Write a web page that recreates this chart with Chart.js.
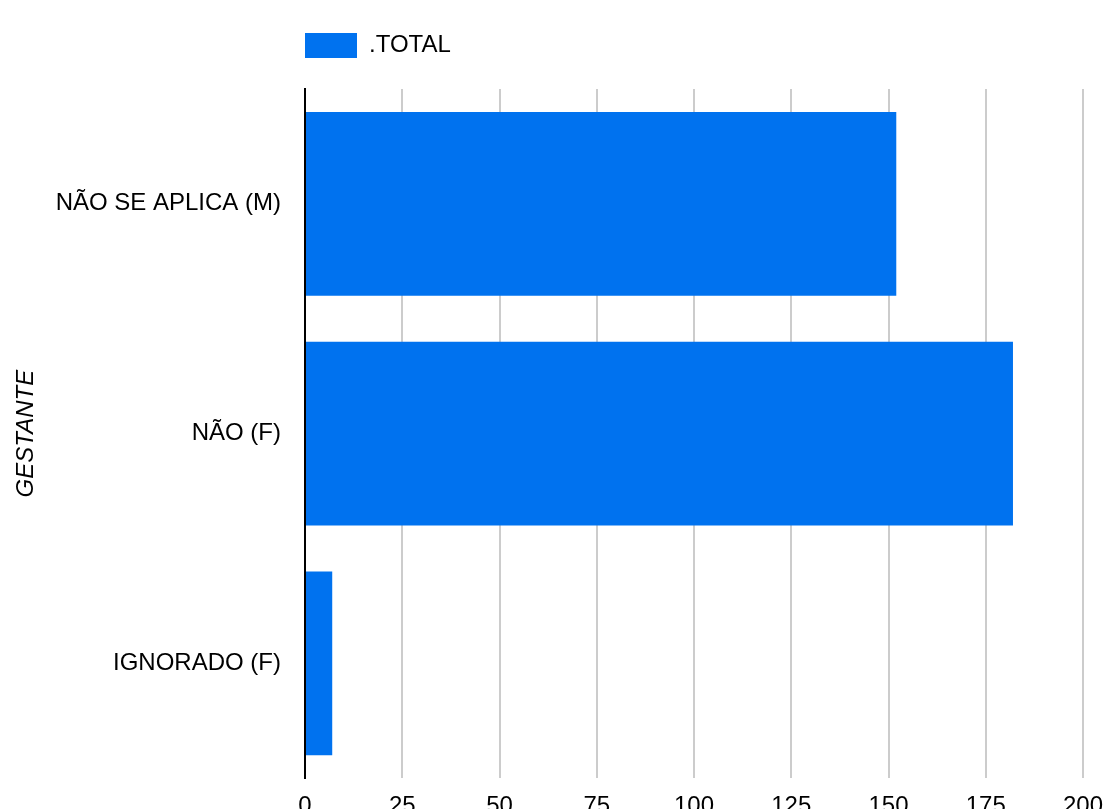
<!DOCTYPE html>
<html>
<head>
<meta charset="utf-8">
<script src="https://cdn.jsdelivr.net/npm/chart.js@4"></script>
<style>
  html, body { margin: 0; padding: 0; overflow: hidden; background: #fff; }
  #wrap { width: 1105px; height: 835px; }
</style>
</head>
<body>
<div id="wrap"><canvas id="chart" width="1105" height="835"></canvas></div>
<script>
const categories = ["NÃO SE APLICA (M)", "NÃO (F)", "IGNORADO (F)"];
const totals = [152, 182, 7];
const seriesLabel = ".TOTAL";
const axisTitle = "GESTANTE";
const xMax = 200;
const xStep = 25;

const FONT = "'Liberation Sans', Arial, sans-serif";
const BLUE = "#0072ef";

// push the chart area down below the legend
const legendGap = {
    id: "legendGap",
    beforeInit(chart) {
        const fit = chart.legend.fit;
        chart.legend.fit = function () {
            fit.call(this);
            this.height += 21;
        };
    }
};

new Chart(document.getElementById("chart"), {
    type: "bar",
    data: {
        labels: categories,
        datasets: [{
            label: seriesLabel,
            data: totals,
            backgroundColor: BLUE,
            borderWidth: 0,
            barPercentage: 0.8,
            categoryPercentage: 1.0
        }]
    },
    options: {
        indexAxis: "y",
        responsive: false,
        animation: false,
        layout: { padding: { top: 33, right: 22, bottom: 0, left: 0 } },
        plugins: {
            tooltip: { enabled: false },
            legend: {
                position: "top",
                align: "start",
                fullSize: false,
                labels: {
                    boxWidth: 52,
                    boxHeight: 25,
                    padding: 0,
                    color: "#000",
                    font: { family: FONT, size: 24 }
                }
            }
        },
        scales: {
            x: {
                min: 0,
                max: xMax,
                ticks: {
                    stepSize: xStep,
                    padding: 14,
                    color: "#000",
                    maxRotation: 0,
                    font: { family: FONT, size: 24 }
                },
                grid: { color: "#cccccc", lineWidth: 2, drawTicks: false },
                border: { display: false },
                afterFit(scale) {
                    scale.paddingLeft = 0;
                    scale.paddingRight = 0;
                }
            },
            y: {
                ticks: {
                    padding: 24,
                    color: "#000",
                    font: { family: FONT, size: 24 }
                },
                grid: { display: false, drawTicks: false },
                border: { display: true, color: "#000", width: 2 },
                title: {
                    display: true,
                    text: axisTitle,
                    color: "#000",
                    padding: { top: 12, bottom: 0 },
                    font: { family: FONT, size: 24, style: "italic" }
                },
                afterFit(scale) {
                    scale.width = 305;
                    scale.paddingTop = 0;
                    scale.paddingBottom = 0;
                }
            }
        }
    },
    plugins: [legendGap]
});
</script>
</body>
</html>
